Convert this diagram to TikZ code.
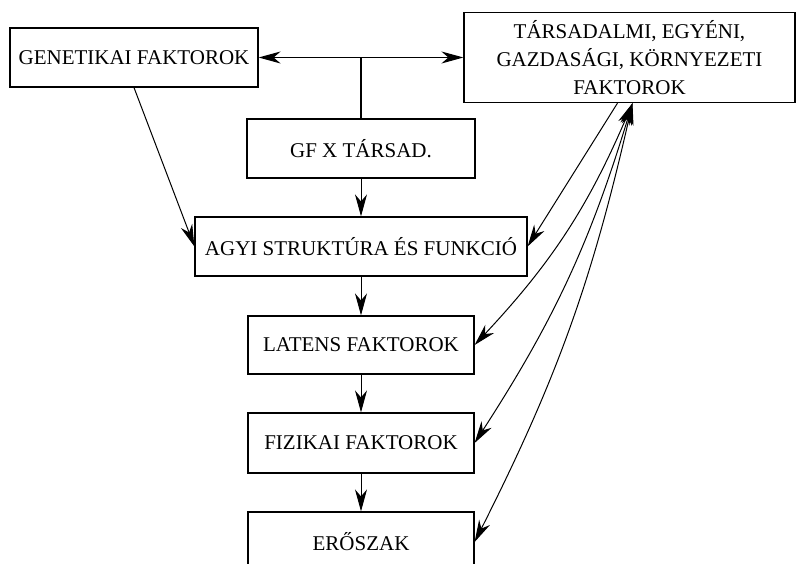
\documentclass[tikz,border=0pt]{standalone}
\usepackage{fontspec}
\setmainfont{Liberation Serif}
\usetikzlibrary{arrows.meta}

\tikzset{
	box/.style={draw, line width=1.2pt, inner sep=0pt, align=center, font=\fontsize{21}{28}\selectfont},
	arr/.style={line width=1pt, ->},
	dblarr/.style={line width=1pt, <->},
}

\begin{document}
\begin{tikzpicture}[x=1pt, y=-1pt, >={Stealth[length=22pt, width=12pt, inset=7pt]}]
			%%%%% START %%%%%
			\useasboundingbox (0, 0) rectangle (796, 564);
			\clip (0, 0) rectangle (796, 564);
			
			\node[box, minimum width=248, minimum height=59] (gen) at (134, 57.5) {GENETIKAI FAKTOROK};
			\node[box, minimum width=331, minimum height=90] (tars) at (629.5, 57.5) {TÁRSADALMI, EGYÉNI,\\GAZDASÁGI, KÖRNYEZETI\\FAKTOROK};
			\node[box, minimum width=228, minimum height=59] (gfx) at (361, 148.5) {GF X TÁRSAD.};
			\node[box, minimum width=332, minimum height=59] (agyi) at (361, 246.5) {AGYI STRUKTÚRA ÉS FUNKCIÓ};
			\node[box, minimum width=226, minimum height=58] (latens) at (361, 345) {LATENS FAKTOROK};
			\node[box, minimum width=226, minimum height=60] (fiz) at (361, 443) {FIZIKAI FAKTOROK};
			\node[box, minimum width=226, minimum height=60] (ero) at (361, 542) {ERŐSZAK};
			
			%%%%% top row
			\coordinate (junc) at (gfx.north |- gen.east);
			\draw[dblarr] (gen.east) -- (tars.west);
			\draw[line width=2pt] (junc) -- (gfx.north);
			
			%%%%% middle column
			\draw[arr] (gfx) -- (agyi);
			\draw[arr] (agyi) -- (latens);
			\draw[arr] (latens) -- (fiz);
			\draw[arr] (fiz) -- (ero);
			\draw[arr] (gen.south) -- (agyi.west);
			
			%%%%% right side
			\coordinate (tleft) at ([xshift=-12pt]tars.south);
			\coordinate (ttop) at ([xshift=3pt]tars.south);
			\draw[arr] (tleft) -- (agyi.east);
			\draw[dblarr] (ttop) to[bend left=10] (latens.east);
			\draw[dblarr] (ttop) to[bend left=8] (fiz.east);
			\draw[dblarr] (ttop) to[bend left=7] (ero.east);
			
			%%%%% END %%%%%
\end{tikzpicture}
\end{document}
